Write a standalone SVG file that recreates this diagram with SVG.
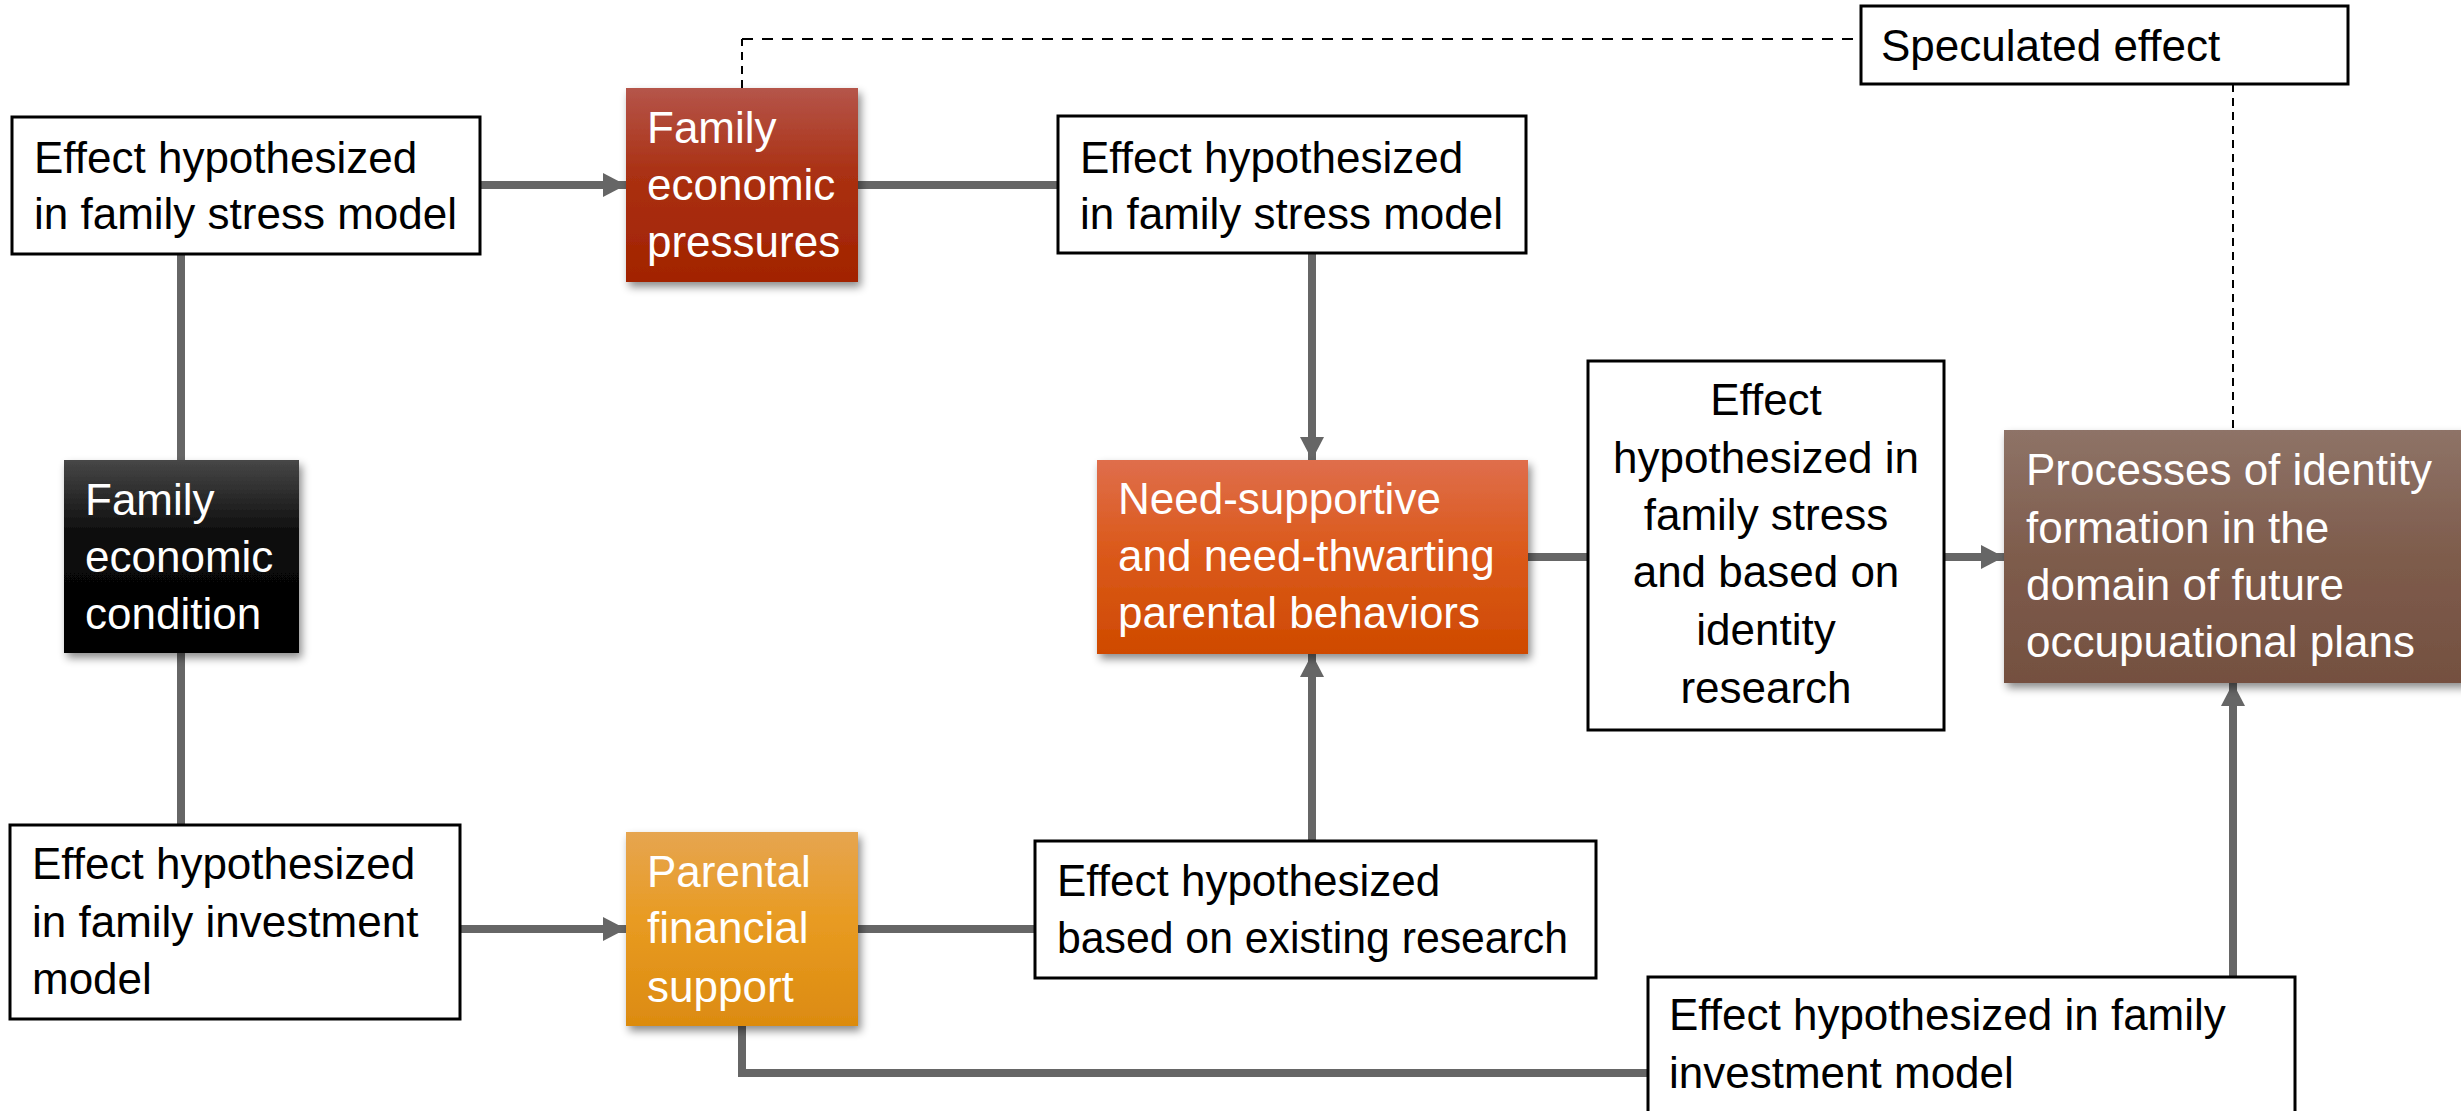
<svg xmlns="http://www.w3.org/2000/svg" width="2461" height="1111" viewBox="0 0 2461 1111">
  <defs>
    <style>
      .box { fill: #ffffff; stroke: #000000; stroke-width: 3; }
      .txt { font-family: "Liberation Sans", Arial, sans-serif; font-size: 44px; fill: #000000; }
      .wtxt { font-family: "Liberation Sans", Arial, sans-serif; font-size: 44px; fill: #ffffff; }
      .conn { fill: none; stroke: #666666; stroke-width: 8; }
      .dash { fill: none; stroke: #000000; stroke-width: 2; }
    </style>
    <marker id="arrow" markerUnits="userSpaceOnUse" markerWidth="24" markerHeight="26" refX="23" refY="12" orient="auto">
      <path d="M0,0 L23,12 L0,24 Z" fill="#666666"/>
    </marker>
    <filter id="shadow" x="-10%" y="-10%" width="125%" height="130%">
      <feDropShadow dx="3" dy="5" stdDeviation="4" flood-color="#000000" flood-opacity="0.45"/>
    </filter>
    <linearGradient id="gRed" x1="0" y1="0" x2="0" y2="1">
      <stop offset="0" stop-color="#b5554a"/>
      <stop offset="0.45" stop-color="#aa3012"/>
      <stop offset="1" stop-color="#a22300"/>
    </linearGradient>
    <linearGradient id="gBlack" x1="0" y1="0" x2="0" y2="1">
      <stop offset="0" stop-color="#474747"/>
      <stop offset="0.4" stop-color="#0a0a0a"/>
      <stop offset="1" stop-color="#000000"/>
    </linearGradient>
    <linearGradient id="gOrange" x1="0" y1="0" x2="0" y2="1">
      <stop offset="0" stop-color="#df6e4c"/>
      <stop offset="0.45" stop-color="#db5a1c"/>
      <stop offset="1" stop-color="#cf4a00"/>
    </linearGradient>
    <linearGradient id="gGold" x1="0" y1="0" x2="0" y2="1">
      <stop offset="0" stop-color="#e6a550"/>
      <stop offset="0.45" stop-color="#e89b22"/>
      <stop offset="1" stop-color="#dc8b10"/>
    </linearGradient>
    <linearGradient id="gBrown" x1="0" y1="0" x2="0" y2="1">
      <stop offset="0" stop-color="#8e7367"/>
      <stop offset="0.5" stop-color="#7e5c4c"/>
      <stop offset="1" stop-color="#745040"/>
    </linearGradient>
  </defs>

  <rect x="0" y="0" width="2461" height="1111" fill="#ffffff"/>

  <g id="connectors">
    <line class="conn" x1="480" y1="185" x2="626" y2="185" marker-end="url(#arrow)"/>
    <line class="conn" x1="858" y1="185" x2="1058" y2="185"/>
    <line class="conn" x1="1312" y1="253" x2="1312" y2="460" marker-end="url(#arrow)"/>
    <line class="conn" x1="181" y1="460" x2="181" y2="254"/>
    <line class="conn" x1="181" y1="653" x2="181" y2="825"/>
    <line class="conn" x1="460" y1="929" x2="626" y2="929" marker-end="url(#arrow)"/>
    <line class="conn" x1="858" y1="929" x2="1035" y2="929"/>
    <line class="conn" x1="1312" y1="841" x2="1312" y2="654" marker-end="url(#arrow)"/>
    <line class="conn" x1="1528" y1="557" x2="1588" y2="557"/>
    <line class="conn" x1="1944" y1="557" x2="2004" y2="557" marker-end="url(#arrow)"/>
    <polyline class="conn" points="742,1026 742,1073 1648,1073"/>
    <line class="conn" x1="2233" y1="977" x2="2233" y2="683" marker-end="url(#arrow)"/>
    <line class="dash" x1="742" y1="88" x2="742" y2="39" stroke-dasharray="8 6"/>
    <line class="dash" x1="742" y1="39" x2="1861" y2="39" stroke-dasharray="11 9"/>
    <line class="dash" x1="2233" y1="84" x2="2233" y2="430" stroke-dasharray="8 6"/>
  </g>

  <g id="box-stress-1">
    <rect class="box" x="12" y="117" width="468" height="137"/>
    <text class="txt" x="34" y="173">Effect hypothesized</text>
    <text class="txt" x="34" y="229">in family stress model</text>
  </g>

  <g id="family-economic-pressures">
    <rect x="626" y="88" width="232" height="194" fill="url(#gRed)" filter="url(#shadow)"/>
    <text class="wtxt" x="647" y="143">Family</text>
    <text class="wtxt" x="647" y="200">economic</text>
    <text class="wtxt" x="647" y="257">pressures</text>
  </g>

  <g id="box-stress-2">
    <rect class="box" x="1058" y="116" width="468" height="137"/>
    <text class="txt" x="1080" y="173">Effect hypothesized</text>
    <text class="txt" x="1080" y="229">in family stress model</text>
  </g>

  <g id="speculated-effect">
    <rect class="box" x="1861" y="6" width="487" height="78"/>
    <text class="txt" x="1881" y="61">Speculated effect</text>
  </g>

  <g id="family-economic-condition">
    <rect x="64" y="460" width="235" height="193" fill="url(#gBlack)" filter="url(#shadow)"/>
    <text class="wtxt" x="85" y="515">Family</text>
    <text class="wtxt" x="85" y="572">economic</text>
    <text class="wtxt" x="85" y="629">condition</text>
  </g>

  <g id="parental-behaviors">
    <rect x="1097" y="460" width="431" height="194" fill="url(#gOrange)" filter="url(#shadow)"/>
    <text class="wtxt" x="1118" y="514">Need-supportive</text>
    <text class="wtxt" x="1118" y="571">and need-thwarting</text>
    <text class="wtxt" x="1118" y="628">parental behaviors</text>
  </g>

  <g id="box-stress-identity">
    <rect class="box" x="1588" y="361" width="356" height="369"/>
    <text class="txt" x="1766" y="415" text-anchor="middle">Effect</text>
    <text class="txt" x="1766" y="473" text-anchor="middle">hypothesized in</text>
    <text class="txt" x="1766" y="530" text-anchor="middle">family stress</text>
    <text class="txt" x="1766" y="587" text-anchor="middle">and based on</text>
    <text class="txt" x="1766" y="645" text-anchor="middle">identity</text>
    <text class="txt" x="1766" y="703" text-anchor="middle">research</text>
  </g>

  <g id="identity-formation">
    <rect x="2004" y="430" width="462" height="253" fill="url(#gBrown)" filter="url(#shadow)"/>
    <text class="wtxt" x="2026" y="485">Processes of identity</text>
    <text class="wtxt" x="2026" y="543">formation in the</text>
    <text class="wtxt" x="2026" y="600">domain of future</text>
    <text class="wtxt" x="2026" y="657">occupuational plans</text>
  </g>

  <g id="box-investment-1">
    <rect class="box" x="10" y="825" width="450" height="194"/>
    <text class="txt" x="32" y="879">Effect hypothesized</text>
    <text class="txt" x="32" y="937">in family investment</text>
    <text class="txt" x="32" y="994">model</text>
  </g>

  <g id="parental-financial-support">
    <rect x="626" y="832" width="232" height="194" fill="url(#gGold)" filter="url(#shadow)"/>
    <text class="wtxt" x="647" y="887">Parental</text>
    <text class="wtxt" x="647" y="943">financial</text>
    <text class="wtxt" x="647" y="1002">support</text>
  </g>

  <g id="box-existing-research">
    <rect class="box" x="1035" y="841" width="561" height="137"/>
    <text class="txt" x="1057" y="896">Effect hypothesized</text>
    <text class="txt" x="1057" y="953" textLength="511" lengthAdjust="spacingAndGlyphs">based on existing research</text>
  </g>

  <g id="box-investment-2">
    <rect class="box" x="1648" y="977" width="647" height="140"/>
    <text class="txt" x="1669" y="1030">Effect hypothesized in family</text>
    <text class="txt" x="1669" y="1088">investment model</text>
  </g>
</svg>
